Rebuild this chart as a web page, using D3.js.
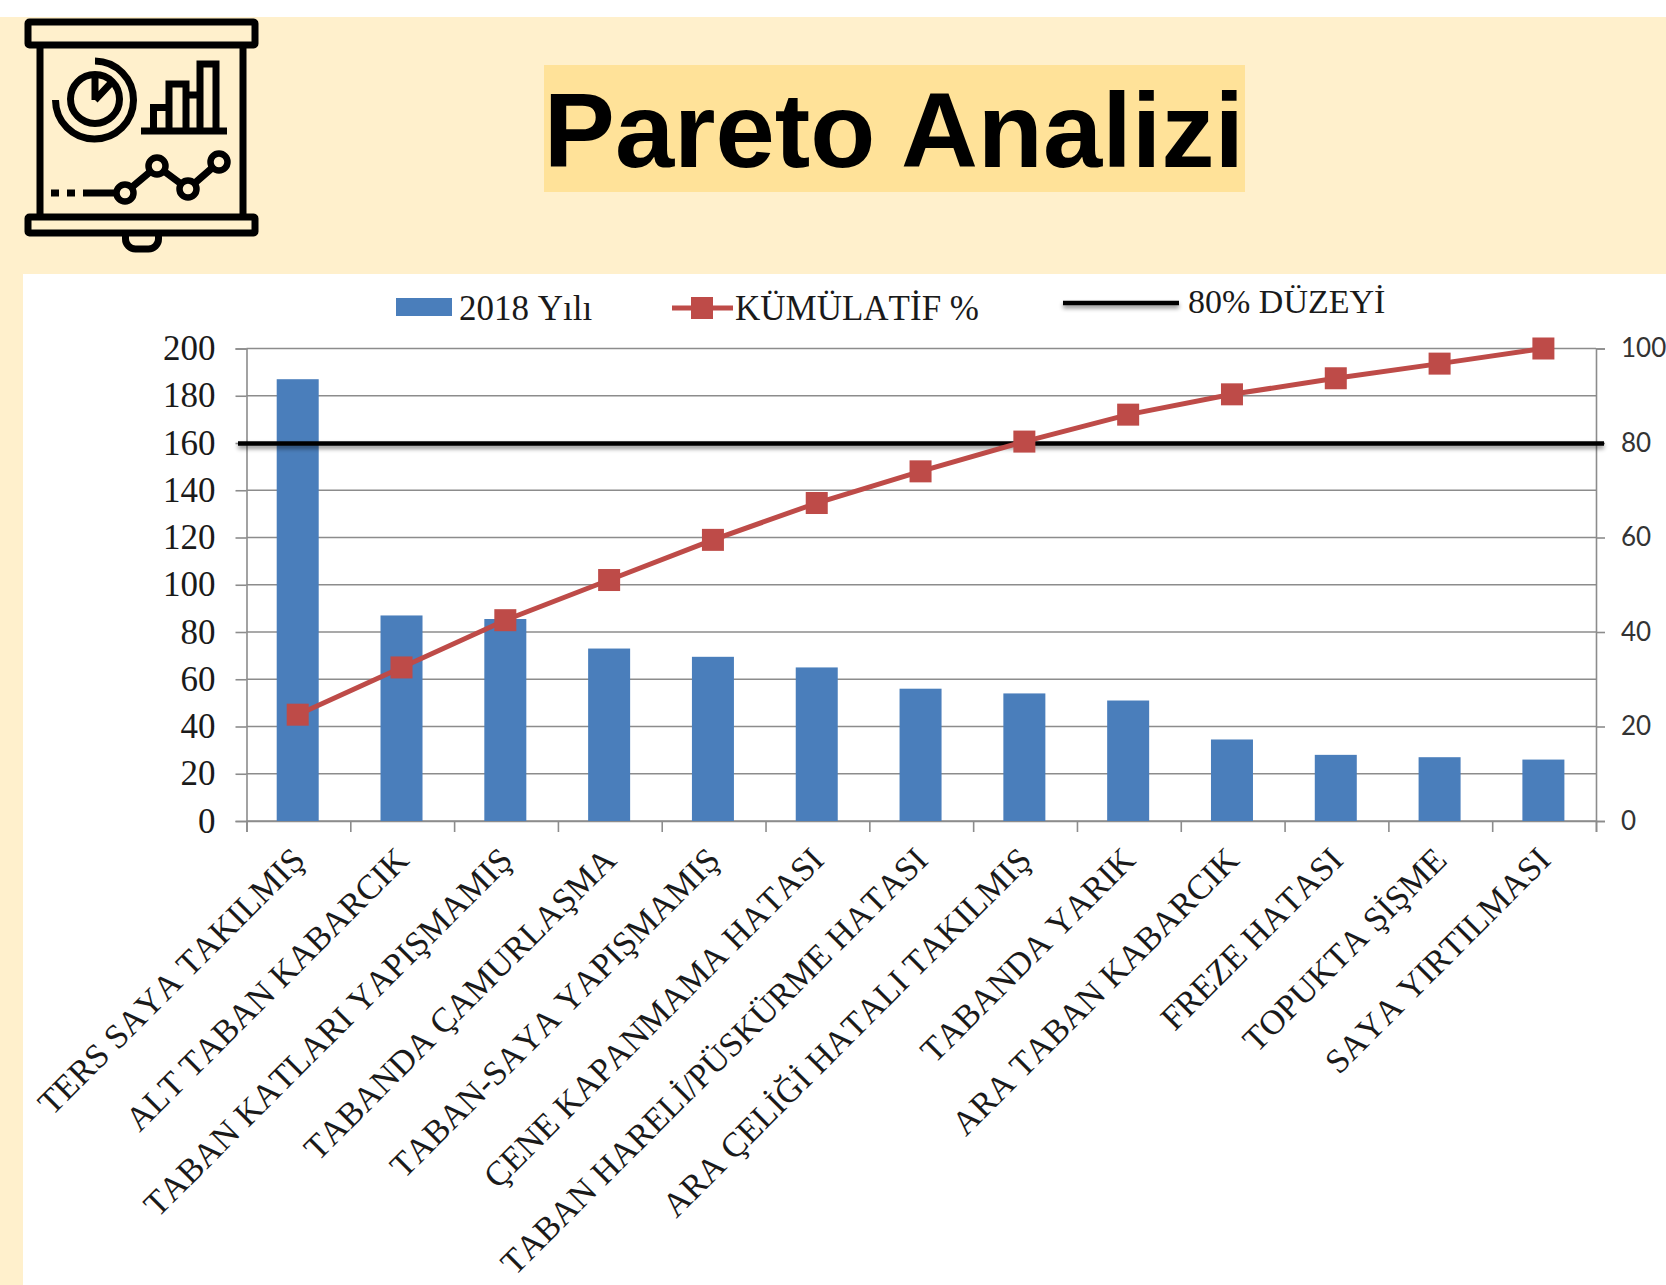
<!DOCTYPE html>
<html lang="tr">
<head>
<meta charset="utf-8">
<title>Pareto Analizi</title>
<script src="https://cdn.jsdelivr.net/npm/d3@7"></script>
<style>
  html, body { margin: 0; padding: 0; background: #fff; overflow: hidden; }
  svg { display: block; }
</style>
</head>
<body>
<svg id="chart"></svg>
<script>
const categories = [
    'TERS SAYA TAKILMIŞ', 'ALT TABAN KABARCIK', 'TABAN KATLARI YAPIŞMAMIŞ',
    'TABANDA ÇAMURLAŞMA', 'TABAN-SAYA YAPIŞMAMIŞ', 'ÇENE KAPANMAMA HATASI',
    'TABAN HARELİ/PÜSKÜRME HATASI', 'ARA ÇELİĞİ HATALI TAKILMIŞ', 'TABANDA YARIK',
    'ARA TABAN KABARCIK', 'FREZE HATASI', 'TOPUKTA ŞİŞME', 'SAYA YIRTILMASI'
];
const counts2018 = [187, 87, 85.5, 73, 69.5, 65, 56, 54, 51, 34.5, 28, 27, 26];
const cumulativePct = [22.5, 32.5, 42.5, 51, 59.5, 67.3, 74, 80.3, 86, 90.3, 93.7, 96.8, 100];
const thresholdPct = 79.9;
const leftTicks = [0, 20, 40, 60, 80, 100, 120, 140, 160, 180, 200];
const rightTicks = [0, 20, 40, 60, 80, 100];
const titleText = 'Pareto Analizi';
const legendBar = '2018 Yılı', legendLine = 'KÜMÜLATİF %', legendLevel = '80% DÜZEYİ';

const W = 1666, H = 1285;
const CREAM = '#FFF0CC', BLUE = '#4A7EBB', RED = '#BE4B48', GRID = '#8C8C8C';
const SERIF = '"Liberation Serif", serif', TXT = '#1a1a1a';

const svg = d3.select('#chart').attr('width', W).attr('height', H).attr('viewBox', `0 0 ${W} ${H}`);

// userSpaceOnUse: the bounding box of a horizontal line has no height
const defs = svg.append('defs');
defs.append('filter').attr('id', 'lineShadow').attr('filterUnits', 'userSpaceOnUse')
    .attr('x', 0).attr('y', 0).attr('width', W).attr('height', H)
    .append('feDropShadow')
    .attr('dx', 0).attr('dy', 3).attr('stdDeviation', 2)
    .attr('flood-color', '#000').attr('flood-opacity', 0.45);

// Page background and white chart panel
svg.append('rect').attr('width', W).attr('height', H).attr('fill', '#fff');
svg.append('rect').attr('y', 17).attr('width', W).attr('height', H - 17).attr('fill', CREAM);
svg.append('rect').attr('x', 23).attr('y', 274).attr('width', W - 23).attr('height', H - 274).attr('fill', '#fff');

// Title
svg.append('rect').attr('x', 544).attr('y', 65).attr('width', 701).attr('height', 127).attr('fill', '#FFE299');
svg.append('text').attr('x', 894).attr('y', 167).attr('text-anchor', 'middle')
    .attr('font-family', '"Liberation Sans", Arial, sans-serif').attr('font-weight', 700)
    .attr('font-size', 106.5).attr('fill', '#000').text(titleText);

// Presentation board icon
const icon = svg.append('g').attr('fill', 'none').attr('stroke', '#000').attr('stroke-width', 7);
icon.append('rect').attr('x', 28).attr('y', 22).attr('width', 227).attr('height', 23).attr('rx', 1.5);
icon.append('rect').attr('x', 28).attr('y', 217).attr('width', 227).attr('height', 16).attr('rx', 1.5);
icon.append('path').attr('d', 'M40 45V217M243 45V217');
icon.append('path').attr('d', 'M125.5 236v3a10 10 0 0 0 10 10h13a10 10 0 0 0 10-10v-3');
icon.append('circle').attr('cx', 95).attr('cy', 99).attr('r', 24.5);
icon.append('path').attr('d', 'M95 61A39 39 0 1 1 55.5 100');
icon.append('path').attr('d', 'M95 100V78M95 100L111 83').attr('stroke-linejoin', 'round');
icon.append('path').attr('d', 'M141 131H227M153.5 131V107.5H169M169 131V84H186V131M200 131V64H216V131M186 95H200');
icon.append('path').attr('d', 'M83 193H125L157 166L188 189L219 162');
icon.append('path').attr('d', 'M51 193H59M67 193H75');
icon.selectAll('circle.node').data([[125, 193], [157, 166], [188, 189], [219, 162]]).join('circle')
    .attr('class', 'node').attr('cx', d => d[0]).attr('cy', d => d[1]).attr('r', 8.5)
    .attr('fill', CREAM).attr('stroke-width', 6.5);

// Chart
const margin = { top: 348.5, right: 70, bottom: 464, left: 246.5 };
const xStep = d3.scaleBand().domain(categories).range([margin.left, W - margin.right]);
const yL = d3.scaleLinear().domain([0, 200]).range([H - margin.bottom, margin.top]);
const yR = d3.scaleLinear().domain([0, 100]).range([H - margin.bottom, margin.top]);
const cx = c => xStep(c) + xStep.bandwidth() / 2 - 0.7;

const axisStyle = g => {
    g.selectAll('path, line').attr('stroke', GRID).attr('stroke-width', 1.6);
    g.selectAll('text').attr('fill', TXT);
};

// Gridlines
svg.append('g').selectAll('line').data(leftTicks).join('line')
    .attr('x1', margin.left).attr('x2', W - margin.right)
    .attr('y1', d => yL(d)).attr('y2', d => yL(d))
    .attr('stroke', GRID).attr('stroke-width', 1.6);

// Left axis
svg.append('g').attr('transform', `translate(${margin.left},0)`)
    .call(d3.axisLeft(yL).tickValues(leftTicks).tickSizeOuter(0).tickSize(11).tickPadding(20))
    .call(axisStyle)
    .call(g => g.selectAll('text').attr('font-family', SERIF).attr('font-size', 35));

// Right axis
svg.append('g').attr('transform', `translate(${W - margin.right},0)`)
    .call(d3.axisRight(yR).tickValues(rightTicks).tickSizeOuter(0).tickSize(9).tickPadding(16))
    .call(axisStyle)
    .call(g => g.selectAll('text').attr('font-family', 'Lato, sans-serif').attr('font-size', 26).attr('fill', '#333'));

// Bottom axis: ticks fall between the categories
const xBottom = d3.scalePoint().domain(d3.range(categories.length + 1)).range([margin.left, W - margin.right]);
svg.append('g').attr('transform', `translate(0,${H - margin.bottom})`)
    .call(d3.axisBottom(xBottom).tickSizeOuter(0).tickSize(11).tickFormat(''))
    .call(axisStyle);

// Bars
svg.append('g').selectAll('rect').data(categories).join('rect')
    .attr('x', d => cx(d) - 21).attr('width', 42)
    .attr('y', (d, i) => yL(counts2018[i]))
    .attr('height', (d, i) => yL(0) - yL(counts2018[i]))
    .attr('fill', BLUE);

// 80% level
svg.append('line')
    .attr('x1', 238).attr('x2', W - margin.right + 8)
    .attr('y1', yR(thresholdPct)).attr('y2', yR(thresholdPct))
    .attr('stroke', '#000').attr('stroke-width', 4.5)
    .attr('filter', 'url(#lineShadow)');

// Cumulative line
const line = d3.line().x((d, i) => cx(categories[i])).y(d => yR(d));
svg.append('path').attr('d', line(cumulativePct))
    .attr('fill', 'none').attr('stroke', RED).attr('stroke-width', 5);
svg.append('g').selectAll('rect').data(cumulativePct).join('rect')
    .attr('x', (d, i) => cx(categories[i]) - 11).attr('y', d => yR(d) - 11)
    .attr('width', 22).attr('height', 22).attr('fill', RED);

// Category labels, rotated
svg.append('g').selectAll('text').data(categories).join('text')
    .attr('transform', d => `translate(${cx(d) + 9},${H - margin.bottom + 41}) rotate(-45)`)
    .attr('text-anchor', 'end').attr('font-family', SERIF).attr('font-size', 34.5)
    .attr('style', 'font-kerning:none')
    .attr('fill', TXT).text(d => d);

// Legend
const legend = svg.append('g').attr('font-family', SERIF).attr('font-size', 35)
    .attr('style', 'font-kerning:none').attr('fill', TXT);
legend.append('rect').attr('x', 396).attr('y', 298).attr('width', 56).attr('height', 18).attr('fill', BLUE);
legend.append('text').attr('x', 459).attr('y', 320).text(legendBar);
legend.append('line').attr('x1', 672).attr('x2', 733).attr('y1', 308).attr('y2', 308)
    .attr('stroke', RED).attr('stroke-width', 5);
legend.append('rect').attr('x', 691).attr('y', 297).attr('width', 22).attr('height', 22).attr('fill', RED);
legend.append('text').attr('x', 735).attr('y', 320).text(legendLine);
legend.append('line').attr('x1', 1063).attr('x2', 1179).attr('y1', 303).attr('y2', 303)
    .attr('stroke', '#000').attr('stroke-width', 4.5).attr('filter', 'url(#lineShadow)');
legend.append('text').attr('x', 1188).attr('y', 313).attr('font-size', 34).text(legendLevel);
</script>
</body>
</html>
